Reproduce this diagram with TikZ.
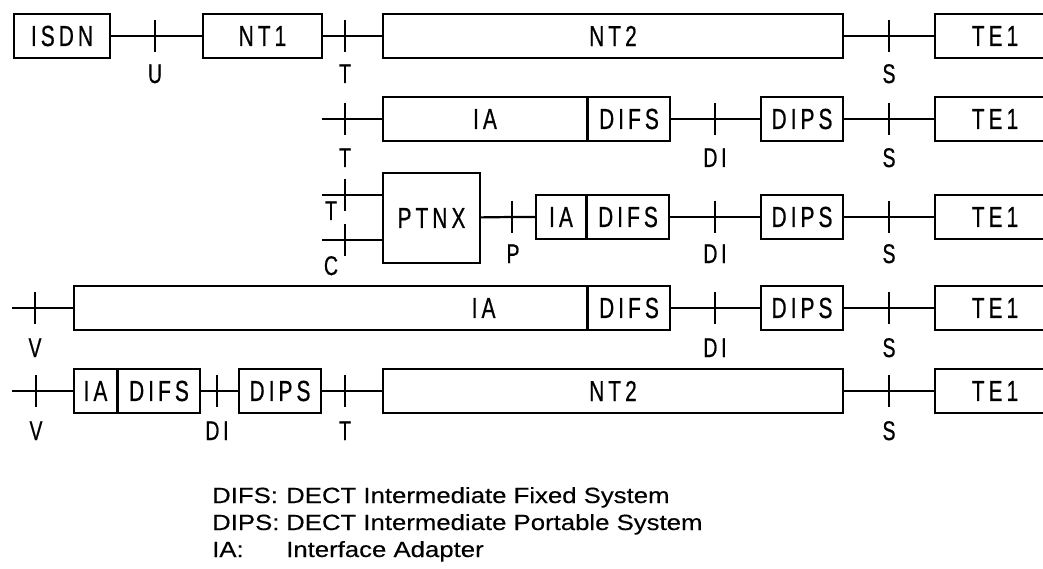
\documentclass[tikz,border=0pt]{standalone}
\usepackage{fontspec}
\setmainfont{Liberation Sans}
\newfontfamily\boxfont[FakeStretch=0.72,LetterSpace=14,FakeBold=0.6]{Liberation Sans}
\newfontfamily\legendfont[FakeStretch=1.17,FakeBold=0.3]{Liberation Sans}
\usetikzlibrary{positioning}

\begin{document}
\begin{tikzpicture}[
    x=1pt, y=-1pt,
    blk/.style={rectangle, draw, line width=2.6pt, minimum height=44pt,
                inner sep=0pt, outer sep=0pt, anchor=west,
                font=\fontsize{29}{32}\boxfont},
    ln/.style={line width=2.2pt},
    tk/.style={line width=2.2pt},
    lbl/.style={anchor=base, inner sep=0pt, font=\fontsize{27}{30}\boxfont},
]
    \useasboundingbox (0,0) rectangle (1043,569);

    % row 1: ISDN - NT1 - NT2 - TE1
    \node[blk, minimum width=96pt] (isdn) at (14,36) {ISDN};
    \node[blk, minimum width=119pt] (nt1) at (203,36) {NT1};
    \node[blk, minimum width=460pt] (nt2a) at (383,36) {NT2};
    \node[blk, minimum width=120pt] (te1a) at (935,36) {TE1};
    \coordinate (u1) at (155,36);
    \coordinate (t1) at (345,36);
    \coordinate (s1) at (889,36);
    \draw[ln] (isdn) -- (u1) -- (nt1);
    \draw[ln] (nt1) -- (t1) -- (nt2a);
    \draw[ln] (nt2a) -- (s1) -- (te1a);

    % row 2: T - IA/DIFS - DIPS - TE1
    \node[blk, minimum width=204pt] (ia2) at (383,119) {IA};
    \node[blk, minimum width=82pt, right=1pt of ia2] (difs2) {DIFS};
    \node[blk, minimum width=82pt] (dips2) at (761,119) {DIPS};
    \node[blk, minimum width=120pt] (te1b) at (935,119) {TE1};
    \coordinate (in2) at (322,119);
    \coordinate (t2) at (345,119);
    \coordinate (di2) at (715,119);
    \coordinate (s2) at (889,119);
    \draw[ln] (in2) -- (t2) -- (ia2);
    \draw[ln] (difs2) -- (di2) -- (dips2);
    \draw[ln] (dips2) -- (s2) -- (te1b);

    % row 3: T/C - PTNX - IA/DIFS - DIPS - TE1
    \node[blk, minimum width=97pt, minimum height=90pt] (ptnx) at (383,218) {PTNX};
    \node[blk, minimum width=50pt] (ia3) at (536,217) {IA};
    \node[blk, minimum width=82pt, right=1pt of ia3] (difs3) {DIFS};
    \node[blk, minimum width=82pt] (dips3) at (761,217) {DIPS};
    \node[blk, minimum width=120pt] (te1c) at (935,217) {TE1};
    \coordinate (inT3) at (322,195);
    \coordinate (inC3) at (322,240);
    \coordinate (tt3) at (345,195);
    \coordinate (tc3) at (345,240);
    \coordinate (p3) at (512,217);
    \coordinate (di3) at (715,217);
    \coordinate (s3) at (889,217);
    \draw[ln] (inT3) -- (tt3) -- (tt3 -| ptnx.west);
    \draw[ln] (inC3) -- (tc3) -- (tc3 -| ptnx.west);
    \draw[ln] (ptnx) -- (p3) -- (ia3);
    \draw[ln] (difs3) -- (di3) -- (dips3);
    \draw[ln] (dips3) -- (s3) -- (te1c);

    % row 4: V - IA/DIFS - DIPS - TE1
    \node[blk, minimum width=513pt, text width=330pt, align=right] (ia4) at (74,308) {IA};
    \node[blk, minimum width=82pt, right=1pt of ia4] (difs4) {DIFS};
    \node[blk, minimum width=82pt] (dips4) at (761,308) {DIPS};
    \node[blk, minimum width=120pt] (te1d) at (935,308) {TE1};
    \coordinate (in4) at (12,308);
    \coordinate (v4) at (35,308);
    \coordinate (di4) at (715,308);
    \coordinate (s4) at (889,308);
    \draw[ln] (in4) -- (v4) -- (ia4);
    \draw[ln] (difs4) -- (di4) -- (dips4);
    \draw[ln] (dips4) -- (s4) -- (te1d);

    % row 5: V - IA/DIFS - DIPS - NT2 - TE1
    \node[blk, minimum width=43pt] (ia5) at (74,391) {IA};
    \node[blk, minimum width=82pt, right=1pt of ia5] (difs5) {DIFS};
    \node[blk, minimum width=82pt] (dips5) at (239,391) {DIPS};
    \node[blk, minimum width=460pt] (nt2b) at (383,391) {NT2};
    \node[blk, minimum width=120pt] (te1e) at (935,391) {TE1};
    \coordinate (in5) at (12,391);
    \coordinate (v5) at (36,391);
    \coordinate (di5) at (217,391);
    \coordinate (t5) at (345,391);
    \coordinate (s5) at (889,391);
    \draw[ln] (in5) -- (v5) -- (ia5);
    \draw[ln] (difs5) -- (di5) -- (dips5);
    \draw[ln] (dips5) -- (t5) -- (nt2b);
    \draw[ln] (nt2b) -- (s5) -- (te1e);

    % reference point ticks
    \foreach \c in {u1,t1,s1,t2,di2,s2,tt3,tc3,p3,di3,s3,v4,di4,s4,v5,di5,t5,s5}
        \draw[tk] (\c) ++(0,-16) -- ++(0,32);

    % reference point labels
    \node[lbl] (lu1) at (155,83) {U};
    \node[lbl] (lt1) at (345,83) {T};
    \node[lbl] (ls1) at (889,83) {S};
    \node[lbl] (lt2) at (345,167) {T};
    \node[lbl] (ldi2) at (715,167) {DI};
    \node[lbl] (ls2) at (889,167) {S};
    \node[lbl] (ltt3) at (331,220) {T};
    \node[lbl] (ltc3) at (331,275) {C};
    \node[lbl] (lp3) at (513,263) {P};
    \node[lbl] (ldi3) at (715,263) {DI};
    \node[lbl] (ls3) at (889,263) {S};
    \node[lbl] (lv4) at (35,357) {V};
    \node[lbl] (ldi4) at (715,357) {DI};
    \node[lbl] (ls4) at (889,357) {S};
    \node[lbl] (lv5) at (36,440) {V};
    \node[lbl] (ldi5) at (217,440) {DI};
    \node[lbl] (lt5) at (345,440) {T};
    \node[lbl] (ls5) at (889,440) {S};

    % legend
    \node[anchor=base west, inner sep=0pt, font=\fontsize{22}{27}\legendfont] (legend) at (212,503)
        {\begin{tabular}[t]{@{}p{74pt}@{}l@{}}
         DIFS: & DECT Intermediate Fixed System\\
         DIPS: & DECT Intermediate Portable System\\
         IA:   & Interface Adapter
         \end{tabular}};
\end{tikzpicture}
\end{document}
